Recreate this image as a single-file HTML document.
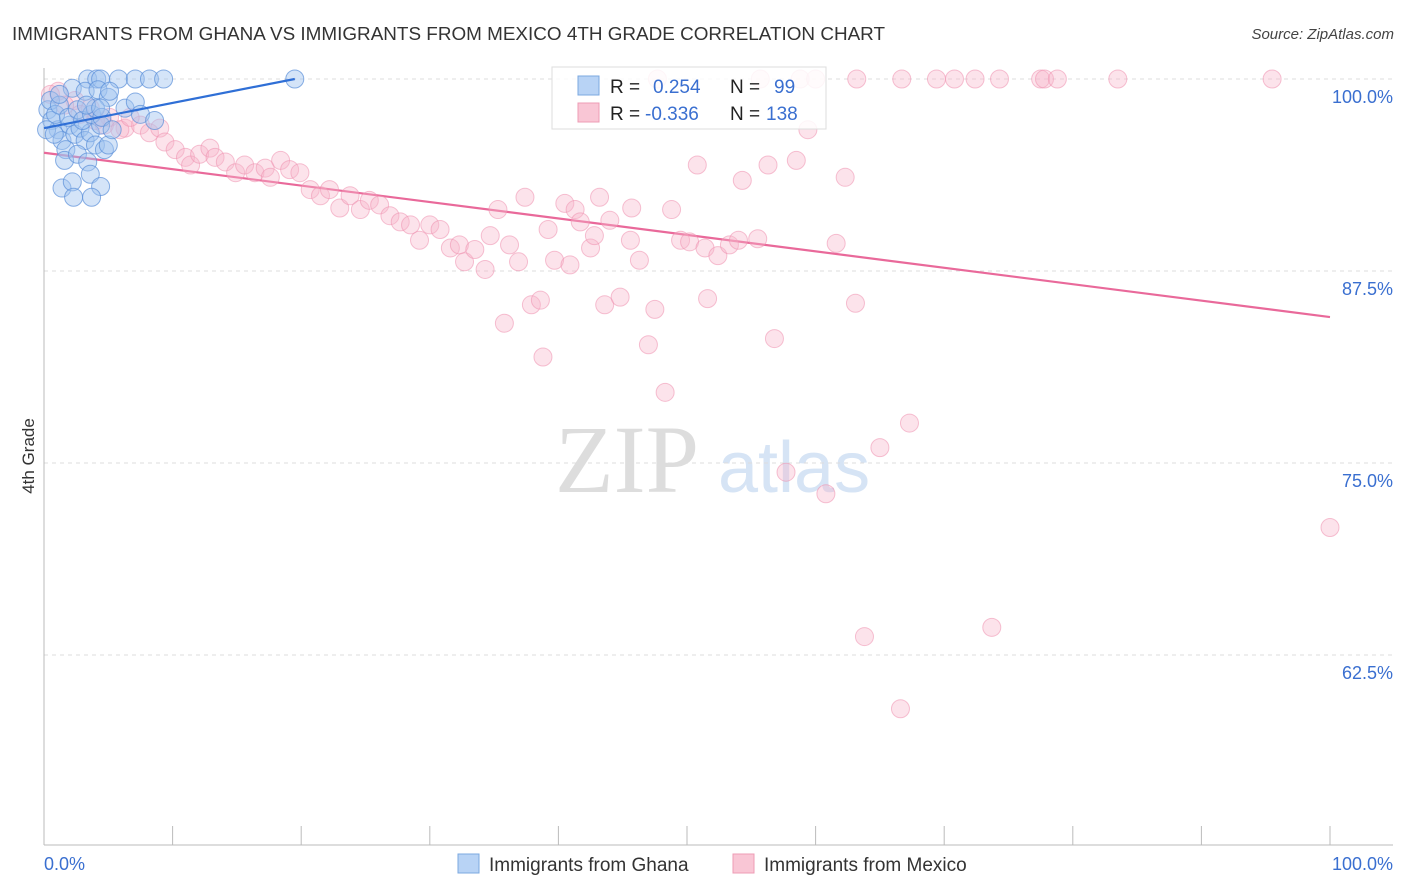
<!DOCTYPE html>
<html><head><meta charset="utf-8"><style>
body{margin:0;background:#fff;font-family:"Liberation Sans",sans-serif;}
svg{display:block}
</style></head><body>
<svg id="chart" width="1406" height="892" xmlns="http://www.w3.org/2000/svg" font-family="Liberation Sans, sans-serif">
<text x="12" y="40" font-size="18" fill="#333" textLength="873" lengthAdjust="spacingAndGlyphs">IMMIGRANTS FROM GHANA VS IMMIGRANTS FROM MEXICO 4TH GRADE CORRELATION CHART</text>
<text x="1394" y="39" font-size="15" fill="#444" font-style="italic" text-anchor="end">Source: ZipAtlas.com</text>
<g>
<text x="555" y="492" font-size="96" font-family="Liberation Serif, serif" fill="#ddd">ZIP</text>
<text x="718" y="492" font-size="72" fill="#d6e4f5">atlas</text>
</g>
<g id="grid"></g>
<g id="axes"></g>
<g id="trend"></g>
<g id="pts"></g>
<g>
<rect x="552" y="67" width="274" height="62" fill="#fff" fill-opacity="0.85" stroke="#ddd"/>
<rect x="578" y="76" width="21" height="19" fill="#b8d3f5" stroke="#7ba8e0"/>
<rect x="578" y="103" width="21" height="19" fill="#f9c6d5" stroke="#ee9cb5"/>
<text x="610" y="93" font-size="19" fill="#222">R =</text>
<text x="653" y="93" font-size="19" fill="#3a6fd0">0.254</text>
<text x="730" y="93" font-size="19" fill="#222">N =</text>
<text x="774" y="93" font-size="19" fill="#3a6fd0">99</text>
<text x="610" y="120" font-size="19" fill="#222">R =</text>
<text x="645" y="120" font-size="19" fill="#3a6fd0">-0.336</text>
<text x="730" y="120" font-size="19" fill="#222">N =</text>
<text x="766" y="120" font-size="19" fill="#3a6fd0">138</text>
</g>
<g>
<rect x="458" y="854" width="21" height="19" fill="#b8d3f5" stroke="#7ba8e0"/>
<text x="489" y="871" font-size="19" fill="#333">Immigrants from Ghana</text>
<rect x="733" y="854" width="21" height="19" fill="#f9c6d5" stroke="#ee9cb5"/>
<text x="764" y="871" font-size="19" fill="#333">Immigrants from Mexico</text>
</g>
<text transform="translate(34,456) rotate(-90)" font-size="17" fill="#333" text-anchor="middle">4th Grade</text>
</svg>
<script>
const yTicks=[100,87.5,75,62.5];
const yTickLabels=["100.0%","87.5%","75.0%","62.5%"];
const xTickLabels=["0.0%","100.0%"];
const ghanaX=[3.4,4.1,4.4,5.8,7.1,8.2,9.3,19.5,2.2,3.2,4.2,5.0,6.3,7.1,7.5,8.6,0.3,0.6,1.1,1.4,1.7,2.0,2.4,2.8,3.2,3.6,4.0,4.4,4.7,5.0,1.6,2.6,3.4,3.6,4.4,1.4,2.2,2.3,3.7,0.5,0.9,1.2,1.9,2.6,3.0,3.7,4.0,0.2,0.8,3.3,4.5,5.3,4.4,5.1,1.2];
const ghanaY=[100,100,100,100,100,100,100,100,99.4,99.2,99.3,98.8,98.1,98.5,97.7,97.3,98.0,97.3,96.7,96.0,95.4,97.0,96.4,96.8,96.0,96.5,95.7,97.0,95.4,95.7,94.7,95.1,94.6,93.8,93.0,92.9,93.3,92.3,92.3,98.6,97.7,98.3,97.5,98.0,97.3,97.7,98.1,96.7,96.4,98.3,97.5,96.7,98.1,99.2,99.0];
const mexicoX=[1.1,2.4,3.6,5.1,6.3,7.5,8.2,9.0,9.4,10.2,11.0,11.4,12.1,12.9,13.3,14.1,14.9,15.6,16.4,17.2,17.6,18.4,19.1,19.9,20.7,21.5,22.2,23.0,23.8,24.6,25.3,26.1,26.9,27.7,28.5,29.2,30.0,30.8,31.6,32.3,32.7,33.5,34.3,34.7,35.3,35.8,36.2,36.9,37.4,37.9,38.6,38.8,39.2,39.7,40.5,40.9,41.3,41.7,42.5,42.8,43.2,43.6,44.0,44.8,45.6,45.7,46.3,47.0,47.5,48.3,48.8,49.5,50.2,50.8,51.4,51.6,52.4,53.3,54.0,54.3,55.5,56.3,56.8,57.7,58.5,59.4,60.8,61.6,62.3,63.1,63.8,65.0,66.6,67.3,73.7,100,47.7,55.7,58.8,60.0,63.2,66.7,69.4,70.8,72.4,74.3,77.5,77.8,78.8,83.5,95.5,0.5,1.6,2.8,4.0,4.7,5.9,6.7];
const mexicoY=[99.2,98.6,98.1,97.5,96.8,97.0,96.5,96.8,95.9,95.4,94.9,94.4,95.1,95.5,94.9,94.6,93.9,94.4,93.9,94.2,93.6,94.7,94.1,93.9,92.8,92.4,92.8,91.6,92.4,91.5,92.1,91.8,91.1,90.7,90.5,89.5,90.5,90.2,89.0,89.2,88.1,88.9,87.6,89.8,91.5,84.1,89.2,88.1,92.3,85.3,85.6,81.9,90.2,88.2,91.9,87.9,91.5,90.7,89.0,89.8,92.3,85.3,90.8,85.8,89.5,91.6,88.2,82.7,85.0,79.6,91.5,89.5,89.4,94.4,89.0,85.7,88.5,89.2,89.5,93.4,89.6,94.4,83.1,74.4,94.7,96.7,73.0,89.3,93.6,85.4,63.7,76.0,59.0,77.6,64.3,70.8,100,100,100,100,100,100,100,100,100,100,100,100,100,100,100,99.0,98.3,97.7,97.3,97.0,96.7,97.5];
const ghanaTrendX=[0,19.5];const ghanaTrendY=[96.8,100];
const mexicoTrendX=[0,100];const mexicoTrendY=[95.2,84.5];

const NS="http://www.w3.org/2000/svg";
const xs=v=>44+v*12.86;
const ys=v=>79+(100-v)*15.36;
function mk(t,a,p){const e=document.createElementNS(NS,t);for(const k in a)e.setAttribute(k,a[k]);p.appendChild(e);return e;}
const grid=document.getElementById('grid'),axes=document.getElementById('axes'),trend=document.getElementById('trend'),pts=document.getElementById('pts');
yTicks.forEach((t,i)=>{
  const l=mk('line',{x1:44,x2:1393,y1:ys(t),y2:ys(t),stroke:'#ddd','stroke-dasharray':'4,4'},grid);
  
  
  const tx=mk('text',{x:1393,y:ys(t)+24,'font-size':18,fill:'#3a6fd0','text-anchor':'end'},axes);
  tx.textContent=yTickLabels[i];
  
  
});
const ya=mk('line',{x1:44,x2:44,y1:68,y2:845,stroke:'#bbb'},axes);


const xa=mk('line',{x1:44,x2:1393,y1:845,y2:845,stroke:'#bbb'},axes);


for(let i=1;i<=10;i++){
  const tk=mk('line',{x1:xs(i*10),x2:xs(i*10),y1:826,y2:845,stroke:'#bbb'},axes);
  
  
}
[[0,'start',44],[1,'end',1393]].forEach(([i,a,x])=>{
  const tx=mk('text',{x:x,y:870,'font-size':18,fill:'#3a6fd0','text-anchor':a},axes);
  tx.textContent=xTickLabels[i];
  
  
});
mexicoX.forEach((x,i)=>{
  const c=mk('circle',{cx:xs(x),cy:ys(mexicoY[i]),r:9,fill:'#f7b6cb','fill-opacity':0.38,stroke:'#ee8fae','stroke-opacity':0.55},pts);
  
  
});
ghanaX.forEach((x,i)=>{
  const c=mk('circle',{cx:xs(x),cy:ys(ghanaY[i]),r:9,fill:'#9fc3ef','fill-opacity':0.45,stroke:'#5a8fd8','stroke-opacity':0.7},pts);
  
  
});
const tm=mk('line',{x1:xs(mexicoTrendX[0]),y1:ys(mexicoTrendY[0]),x2:xs(mexicoTrendX[1]),y2:ys(mexicoTrendY[1]),stroke:'#e9699a','stroke-width':2.2},trend);


const tg=mk('line',{x1:xs(ghanaTrendX[0]),y1:ys(ghanaTrendY[0]),x2:xs(ghanaTrendX[1]),y2:ys(ghanaTrendY[1]),stroke:'#2f6fd6','stroke-width':2.2},pts);


</script>
</body></html>
